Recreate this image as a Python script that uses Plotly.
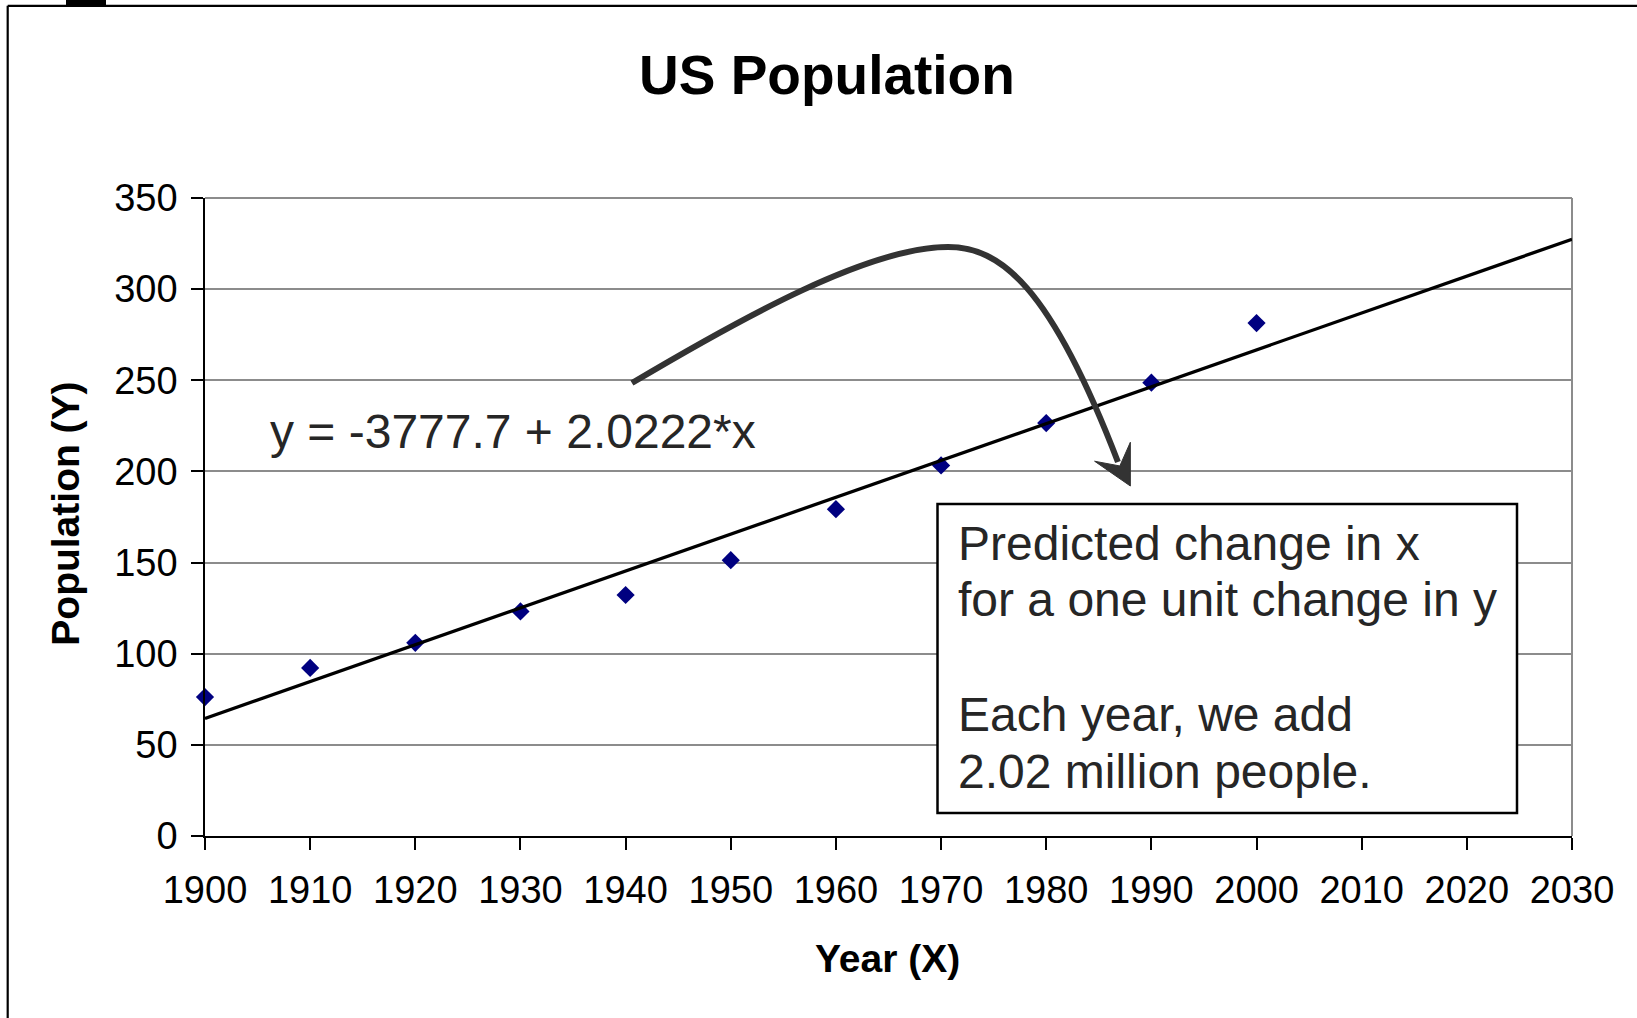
import plotly.graph_objects as go

# US census population (millions) by decade
years = [1900, 1910, 1920, 1930, 1940, 1950, 1960, 1970, 1980, 1990, 2000]
population = [76.2, 92.2, 106.0, 123.2, 132.2, 151.3, 179.3, 203.3, 226.5, 248.7, 281.4]

# Least-squares fit: y = intercept + slope * x
intercept = -3777.7
slope = 2.0222
fit_x = [1900, 2030]

x_ticks = list(range(1900, 2031, 10))
y_ticks = list(range(0, 351, 50))

title_text = "US Population"
x_title = "Year (X)"
y_title = "Population (Y)"
equation_text = "y = -3777.7 + 2.0222*x"
note_lines = ["Predicted change in x", "for a one unit change in y",
              "Each year, we add", "2.02 million people."]

# Curved pointer (data coordinates): two cubic Bezier segments, start -> crest -> end
arrow_start = (1940.6, 248.5)
arrow_seg1 = [(1951.35, 285.3), (1963.23, 323.1), (1970.66, 323.1)]
arrow_seg2 = [(1975.60, 323.1), (1980.36, 302.3), (1986.82, 205.2)]
arrow_head = [(1988.0, 192.0), (1984.6, 205.6), (1987.0, 203.0), (1988.0, 216.0)]

FONT = "Liberation Sans, Arial, sans-serif"
W, H = 1637, 1018
ML, MR, MT, MB = 205, 65, 198, 182
PW, PH = W - ML - MR, H - MT - MB


def px(x):
    return (x - ML) / PW


def py(y):
    return (H - MB - y) / PH


def bezier(seg):
    return " C " + " ".join(f"{x},{y}" for x, y in seg)


fig = go.Figure()

fig.add_trace(go.Scatter(
    x=years, y=population, mode="markers",
    marker=dict(symbol="diamond", size=14, color="#000080"),
    cliponaxis=False, showlegend=False,
))

fig.add_trace(go.Scatter(
    x=fit_x, y=[intercept + slope * x for x in fit_x], mode="lines",
    line=dict(color="black", width=3.3), cliponaxis=False, showlegend=False,
))

shapes = []
# Outer frame and corner tab
shapes.append(dict(type="line", xref="paper", yref="paper",
                   x0=px(7.7), x1=px(W + 5), y0=py(5.8), y1=py(5.8),
                   line=dict(color="black", width=2.2)))
shapes.append(dict(type="line", xref="paper", yref="paper",
                   x0=px(7.7), x1=px(7.7), y0=py(5.8), y1=py(H + 5),
                   line=dict(color="black", width=2.2)))
shapes.append(dict(type="rect", xref="paper", yref="paper",
                   x0=px(66), x1=px(106), y0=py(-2), y1=py(5),
                   line=dict(width=0), fillcolor="black"))
# Plot area top and right edges
shapes.append(dict(type="line", xref="paper", yref="paper", x0=0, x1=1, y0=1, y1=1,
                   line=dict(color="#8c8c8c", width=2), layer="below"))
shapes.append(dict(type="line", xref="paper", yref="paper", x0=1, x1=1, y0=0, y1=1,
                   line=dict(color="#8c8c8c", width=2), layer="below"))
# Note box
shapes.append(dict(type="rect", xref="paper", yref="paper",
                   x0=px(937.5), x1=px(1517), y0=py(813), y1=py(504),
                   line=dict(color="black", width=2.5), fillcolor="white", layer="above"))
# Curved arrow
curve = f"M {arrow_start[0]},{arrow_start[1]}" + bezier(arrow_seg1) + bezier(arrow_seg2)
shapes.append(dict(type="path", xref="x", yref="y", path=curve,
                   line=dict(color="#333333", width=6), layer="above"))
head = "M " + " L ".join(f"{x},{y}" for x, y in arrow_head) + " Z"
shapes.append(dict(type="path", xref="x", yref="y", path=head,
                   line=dict(color="#333333", width=1), fillcolor="#333333", layer="above"))

annotations = [
    dict(text=f"<b>{title_text}</b>", x=px(826.5), y=py(75), xref="paper", yref="paper",
         showarrow=False, xanchor="center", yanchor="middle",
         font=dict(family=FONT, size=55, color="black")),
    dict(text=f"<b>{x_title}</b>", x=px(887), y=py(958), xref="paper", yref="paper",
         showarrow=False, xanchor="center", yanchor="middle",
         font=dict(family=FONT, size=39, color="black")),
    dict(text=f"<b>{y_title}</b>", x=px(64.7), y=py(514), xref="paper", yref="paper",
         showarrow=False, xanchor="center", yanchor="middle", textangle=-90,
         font=dict(family=FONT, size=39, color="black")),
    dict(text=equation_text, x=px(268), y=py(431), xref="paper", yref="paper",
         showarrow=False, xanchor="left", yanchor="middle",
         font=dict(family=FONT, size=48, color="#262626")),
]
for line, yc in zip(note_lines, [543, 599.7, 714.5, 771.2]):
    annotations.append(dict(text=line, x=px(956), y=py(yc), xref="paper", yref="paper",
                            showarrow=False, xanchor="left", yanchor="middle",
                            font=dict(family=FONT, size=48, color="#262626")))

fig.update_layout(
    width=W, height=H,
    margin=dict(l=ML, r=MR, t=MT, b=MB, pad=0),
    paper_bgcolor="white", plot_bgcolor="white",
    font=dict(family=FONT, color="black"),
    shapes=shapes, annotations=annotations,
    showlegend=False,
)

fig.update_xaxes(
    range=[1900, 2030], tickmode="array", tickvals=x_ticks,
    ticks="outside", ticklen=12, tickwidth=1.5, tickcolor="black",
    showline=True, linecolor="black", linewidth=1.5,
    showgrid=False, zeroline=False,
    tickfont=dict(family=FONT, size=38, color="black"),
    ticklabelstandoff=8,
)
fig.update_yaxes(
    range=[0, 350], tickmode="array", tickvals=y_ticks,
    ticks="outside", ticklen=12, tickwidth=1.5, tickcolor="black",
    showline=True, linecolor="black", linewidth=1.5,
    showgrid=True, gridcolor="#8c8c8c", gridwidth=1.5, zeroline=False,
    tickfont=dict(family=FONT, size=38, color="black"),
    ticklabelstandoff=6,
)

fig.write_html("out.html")
